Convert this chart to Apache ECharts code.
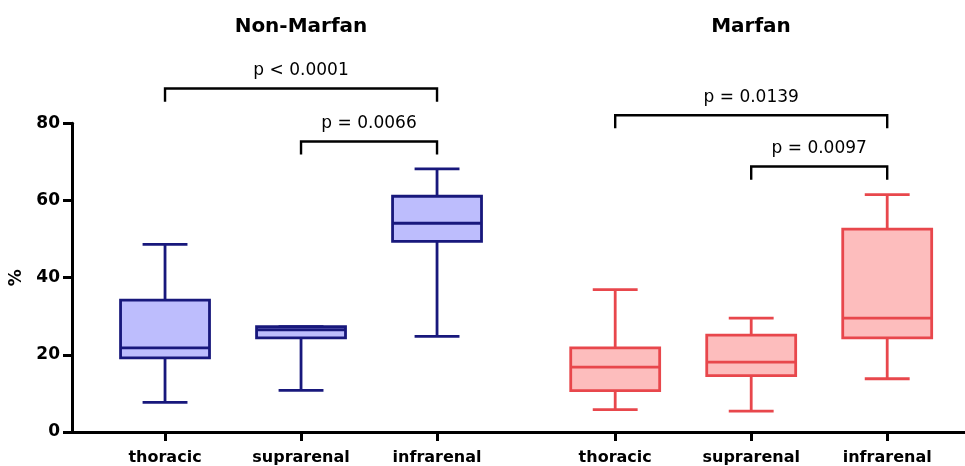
<!DOCTYPE html>
<html>
<head>
<meta charset="utf-8">
<script src="https://cdn.jsdelivr.net/npm/echarts@6/dist/echarts.min.js"></script>
<style>
html,body{margin:0;padding:0;background:#fff;}
#chart{width:965px;height:466px;}
</style>
</head>
<body>
<div id="chart"></div>
<script>
// ---- data ----
const groupTitles = ['Non-Marfan', 'Marfan'];
const categories = ['thoracic', 'suprarenal', 'infrarenal'];
// x placement of each box (value axis units)
const nonMarfanX = [1, 2, 3];
const marfanX = [4.31, 5.31, 6.31];
// [min, Q1, median, Q3, max]
const nonMarfanStats = [
  [7.7, 19.2, 21.8, 34.2, 48.6],
  [10.8, 24.4, 26.5, 27.3, 27.3],
  [24.8, 49.4, 54.1, 61.1, 68.2]
];
const marfanStats = [
  [5.8, 10.7, 16.8, 21.8, 36.9],
  [5.4, 14.6, 18.1, 25.1, 29.5],
  [13.8, 24.4, 29.5, 52.6, 61.5]
];
// comparisons: [fromIndex, toIndex, bracket level (%), label]
const nonMarfanTests = [
  [0, 2, 89.0, 'p < 0.0001'],
  [1, 2, 75.3, 'p = 0.0066']
];
const marfanTests = [
  [0, 2, 82.1, 'p = 0.0139'],
  [1, 2, 68.8, 'p = 0.0097']
];
const yTicks = [0, 20, 40, 60, 80];

// ---- build ----
const FONT = 'DejaVu Sans';
const allX = nonMarfanX.concat(marfanX);
const allLabels = categories.concat(categories);
const BOX_W = 0.654, CAP_W = 0.33, DROP = 3.4;

function boxData(xs, stats) {
  return xs.map((x, i) => [x].concat(stats[i]));
}
function bracketData(xs, tests) {
  return tests.map(t => [xs[t[0]], xs[t[1]], t[2], t[3]]);
}

function makeBoxRender(stroke, fill) {
  return function (params, api) {
    const x = api.value(0);
    const lo = api.coord([x, api.value(1)]);
    const q1 = api.coord([x, api.value(2)]);
    const md = api.coord([x, api.value(3)]);
    const q3 = api.coord([x, api.value(4)]);
    const hi = api.coord([x, api.value(5)]);
    const bw = api.size([BOX_W, 0])[0];
    const cw = api.size([CAP_W, 0])[0];
    const cx = lo[0];
    const ls = {stroke: stroke, lineWidth: 2.8};
    return {
      type: 'group',
      children: [
        {type: 'line', shape: {x1: cx, y1: hi[1], x2: cx, y2: q3[1]}, style: ls},
        {type: 'line', shape: {x1: cx, y1: q1[1], x2: cx, y2: lo[1]}, style: ls},
        {type: 'line', shape: {x1: cx - cw / 2, y1: hi[1], x2: cx + cw / 2, y2: hi[1]}, style: ls},
        {type: 'line', shape: {x1: cx - cw / 2, y1: lo[1], x2: cx + cw / 2, y2: lo[1]}, style: ls},
        {type: 'rect', shape: {x: cx - bw / 2, y: q3[1], width: bw, height: q1[1] - q3[1]},
          style: {fill: fill, stroke: stroke, lineWidth: 2.8}},
        {type: 'line', shape: {x1: cx - bw / 2, y1: md[1], x2: cx + bw / 2, y2: md[1]}, style: ls}
      ]
    };
  };
}

function renderBracket(params, api) {
  const x1 = api.value(0), x2 = api.value(1), lv = api.value(2);
  const a = api.coord([x1, lv]);
  const b = api.coord([x2, lv]);
  const a2 = api.coord([x1, lv - DROP]);
  const b2 = api.coord([x2, lv - DROP]);
  const ls = {stroke: '#000', lineWidth: 2.4, fill: null};
  return {
    type: 'group',
    children: [
      {type: 'polyline', shape: {points: [[a2[0], a2[1]], [a[0], a[1]], [b[0], b[1]], [b2[0], b2[1]]]}, style: ls},
      {type: 'text', x: (a[0] + b[0]) / 2, y: a[1] - 18,
        style: {text: api.value(3), fill: '#000', font: '17px "' + FONT + '"', align: 'center', verticalAlign: 'middle'}}
    ]
  };
}

const chart = echarts.init(document.getElementById('chart'), null, {renderer: 'canvas'});
const option = {
  backgroundColor: '#fff',
  animation: false,
  title: [
    {text: groupTitles[0], left: 301, top: 17, textAlign: 'center', padding: 0,
      textStyle: {fontFamily: FONT, fontWeight: 'bold', fontSize: 20, color: '#000'}},
    {text: groupTitles[1], left: 751, top: 17, textAlign: 'center', padding: 0,
      textStyle: {fontFamily: FONT, fontWeight: 'bold', fontSize: 20, color: '#000'}}
  ],
  grid: {left: 72, right: 0, top: 123.3, bottom: 32.7, containLabel: false},
  xAxis: {
    type: 'value', min: 0.316, max: 6.882,
    splitLine: {show: false},
    axisLine: {show: true, lineStyle: {color: '#000', width: 3}},
    axisTick: {show: true, customValues: allX, length: 9, lineStyle: {color: '#000', width: 3}},
    axisLabel: {
      show: true, customValues: allX, margin: 18,
      fontFamily: FONT, fontWeight: 'bold', fontSize: 16, color: '#000',
      formatter: function (v) {
        for (let i = 0; i < allX.length; i++) if (Math.abs(allX[i] - v) < 0.01) return allLabels[i];
        return '';
      }
    }
  },
  yAxis: {
    type: 'value', min: yTicks[0], max: yTicks[yTicks.length - 1], interval: 20,
    name: '%', nameLocation: 'middle', nameRotate: 90, nameGap: 46,
    nameTextStyle: {fontFamily: FONT, fontWeight: 'bold', fontSize: 17, color: '#000'},
    splitLine: {show: false},
    axisLine: {show: true, lineStyle: {color: '#000', width: 3}},
    axisTick: {show: true, length: 9, lineStyle: {color: '#000', width: 3}},
    axisLabel: {fontFamily: FONT, fontWeight: 'bold', fontSize: 17, color: '#000', margin: 12}
  },
  series: [
    {type: 'custom', name: groupTitles[0], clip: false, renderItem: makeBoxRender('#18187c', '#bdbdfd'),
      data: boxData(nonMarfanX, nonMarfanStats), encode: {x: 0, y: [1, 2, 3, 4, 5]}},
    {type: 'custom', name: groupTitles[1], clip: false, renderItem: makeBoxRender('#e8474c', '#fdbdbd'),
      data: boxData(marfanX, marfanStats), encode: {x: 0, y: [1, 2, 3, 4, 5]}},
    {type: 'custom', clip: false, renderItem: renderBracket,
      data: bracketData(nonMarfanX, nonMarfanTests), encode: {x: [0, 1], y: 2}},
    {type: 'custom', clip: false, renderItem: renderBracket,
      data: bracketData(marfanX, marfanTests), encode: {x: [0, 1], y: 2}}
  ]
};
chart.setOption(option);
</script>
</body>
</html>
